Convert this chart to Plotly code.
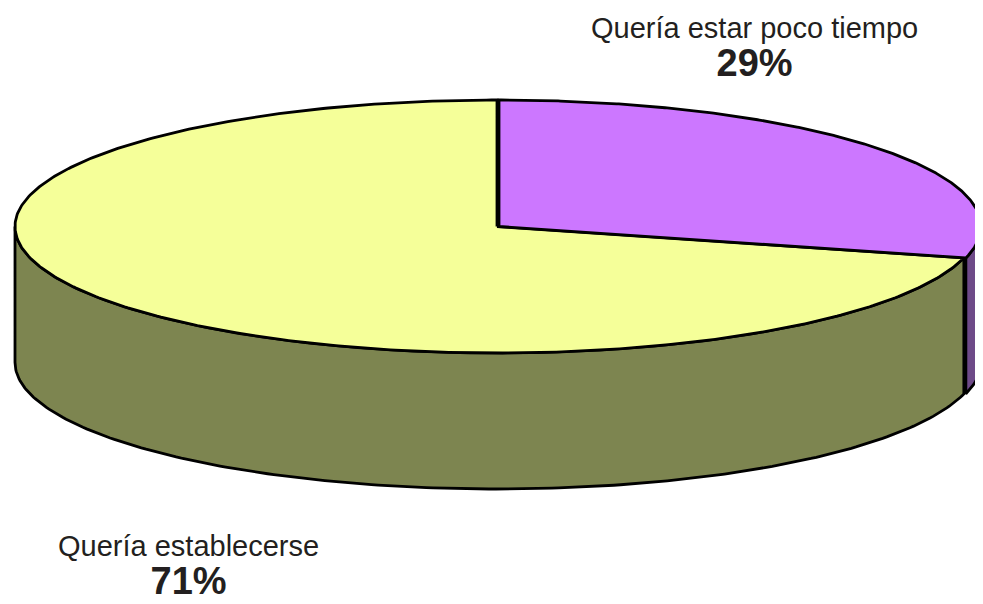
import numpy as np
import plotly.graph_objects as go

# ---- data ----
labels = ["Quería estar poco tiempo", "Quería establecerse"]
values = [29, 71]
pct_text = ["29%", "71%"]
top_colors = ["#CC77FF", "#F5FF99"]
side_colors = ["#6E4A88", "#7D8550"]

# ---- geometry (pixel space of the browser window) ----
W, H = 983, 604
PAD = 8  # default page body margin
cx, cy, rx, ry, depth = 497, 226.5, 482, 126.5, 136


def pt(theta_deg, dz=0.0, ox=0.0, oy=0.0):
    t = np.radians(theta_deg)
    return cx + ox + rx * np.sin(t), cy + oy - ry * np.cos(t) + dz


total = float(sum(values))
starts, ends = [], []
acc = 0.0
for v in values:
    starts.append(acc / total * 360.0)
    acc += v
    ends.append(acc / total * 360.0)

offsets = [(2, 0), (0, 0)]
LW = 2.8

fig = go.Figure()

# side walls (front half: 90..270 deg)
for i in range(len(values)):
    a, b = max(starts[i], 90), min(ends[i], 270)
    if b <= a:
        continue
    ox, oy = offsets[i]
    th = np.linspace(a, b, 200)
    xs_t, ys_t = pt(th, 0, ox, oy)
    xs_b, ys_b = pt(th[::-1], depth, ox, oy)
    xs = np.concatenate([xs_t, xs_b, xs_t[:1]])
    ys = np.concatenate([ys_t, ys_b, ys_t[:1]])
    fig.add_trace(go.Scatter(x=xs, y=ys, mode="lines", fill="toself",
                             fillcolor=side_colors[i],
                             line=dict(color="black", width=LW),
                             hoverinfo="skip", showlegend=False))

# top faces
for i in [1, 0]:
    ox, oy = offsets[i]
    th = np.linspace(starts[i], ends[i], 400)
    xs_a, ys_a = pt(th, 0, ox, oy)
    xs = np.concatenate([[cx + ox], xs_a, [cx + ox]])
    ys = np.concatenate([[cy + oy], ys_a, [cy + oy]])
    fig.add_trace(go.Scatter(x=xs, y=ys, mode="lines", fill="toself",
                             fillcolor=top_colors[i],
                             line=dict(color="black", width=LW),
                             hoverinfo="skip", showlegend=False))

font_family = "Liberation Sans, Arial, sans-serif"
# (x center, y top of text block)
label_pos = [(754, 10), (188, 528)]
for i in range(len(values)):
    x, ytop = label_pos[i]
    txt = (labels[i] + "<br><span style='font-size:38px'><b>"
           + pct_text[i] + "</b></span>")
    fig.add_annotation(x=x, y=ytop, text=txt, showarrow=False,
                       xref="x", yref="y", xanchor="center", yanchor="top",
                       align="center",
                       font=dict(family=font_family, size=29, color="#231F20"))

fig.update_layout(
    width=W - PAD, height=H - PAD,
    margin=dict(l=0, r=0, t=0, b=0),
    paper_bgcolor="white", plot_bgcolor="white",
    xaxis=dict(range=[PAD, W], visible=False, fixedrange=True),
    yaxis=dict(range=[H, PAD], visible=False, fixedrange=True),
)

fig.write_html("out.html")
